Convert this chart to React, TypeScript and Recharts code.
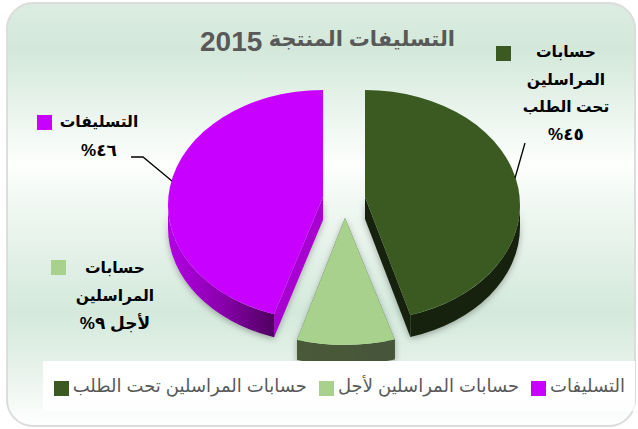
import React from 'react';
import { PieChart, Pie, Legend } from 'recharts';

const categories = ['حسابات المراسلين تحت الطلب', 'حسابات المراسلين لأجل', 'التسليفات'];
const shares = [45, 9, 46];
const colors = ['#3a5a22', '#a9d18e', '#c800ff'];
const sideColors = ['#16230d', 'url(#lightSide)', 'url(#purpleSide)'];
const cutColors = ['#16230d', '#4a5a38', '#a800d0'];
const labelLines = [
    ['حسابات', 'المراسلين', 'تحت الطلب', '٤٥%'],
    ['حسابات', 'المراسلين', 'لأجل ٩%'],
    ['التسليفات', '٤٦%'],
];
const chartTitle = 'التسليفات المنتجة';
const chartYear = '2015';

const rows = categories.map((name, i) => ({ name, value: shares[i], fill: colors[i] }));

// how each slice is pulled out and squashed to look like the tilted pie
const sliceLook = [
    { dx: 21, dy: 0, scale: 1, squash: 0.742, apexDy: -8, depth: 22, startShift: 0, endShift: 1 },
    { dx: 1, dy: 12, scale: 1.13, squash: 0.73, apexDy: 1, depth: 20, startShift: 1.5, endShift: 1.5 },
    { dx: -21, dy: 0, scale: 1, squash: 0.742, apexDy: -8, depth: 23, startShift: 4, endShift: 0 },
];

const labelLook = [
    { x: 566, y: 57, step: 27.5, swatchX: 496, swatchY: 46, leader: '525,143 515,178' },
    { x: 115, y: 273, step: 28, swatchX: 51, swatchY: 260, leader: '' },
    { x: 99, y: 127, step: 29, swatchX: 37, swatchY: 115, leader: '131,157 143,157 172,181' },
];

const FONT = '"Liberation Sans", Arial, "DejaVu Sans", sans-serif';

const SliceShape = (props: any) => {
    const index = categories.indexOf(props.name ?? props.payload?.name);
    const look = sliceLook[index];
    const rx = props.outerRadius * look.scale;
    const ry = rx * look.squash;
    const ex = props.cx + look.dx;
    const ey = props.cy + look.dy;
    const ax = ex;
    const ay = ey + look.apexDy;
    const from = 90 - props.startAngle + look.startShift;
    const to = 90 - props.endAngle + look.endShift;
    const pt = (deg: number) => {
        const t = (deg * Math.PI) / 180;
        return [ex + rx * Math.sin(t), ey - ry * Math.cos(t)];
    };
    const [x0, y0] = pt(from);
    const [x1, y1] = pt(to);
    const large = to - from > 180 ? 1 : 0;
    const d = look.depth;
    // the rim only shows on the lower half of the ellipse
    const rimFrom = Math.max(from, 90);
    const rimTo = Math.min(to, 270);
    const [rx0, ry0] = pt(rimFrom);
    const [rx1, ry1] = pt(rimTo);
    const top = `M${ax},${ay} L${x0},${y0} A${rx},${ry} 0 ${large} 1 ${x1},${y1} Z`;
    const rim = `M${rx0},${ry0} A${rx},${ry} 0 0 1 ${rx1},${ry1} L${rx1},${ry1 + d} A${rx},${ry} 0 0 0 ${rx0},${ry0 + d} Z`;
    const cutA = `M${ax},${ay} L${x0},${y0} L${x0},${y0 + d} L${ax},${ay + d} Z`;
    const cutB = `M${ax},${ay} L${x1},${y1} L${x1},${y1 + d} L${ax},${ay + d} Z`;
    return (
        <g>
            <g filter="url(#softShadow)">
                <path d={cutA} fill={cutColors[index]} />
                <path d={cutB} fill={cutColors[index]} />
                <path d={rim} fill={sideColors[index]} />
            </g>
            <path d={top} fill={colors[index]} />
        </g>
    );
};

const renderLabel = (props: any) => {
    const index = props.index;
    const look = labelLook[index];
    const lines = labelLines[index];
    return (
        <g key={index}>
            <rect x={look.swatchX} y={look.swatchY} width={15} height={15} fill={colors[index]} />
            {lines.map((line, i) => (
                <text
                    key={i}
                    x={look.x}
                    y={look.y + i * look.step}
                    textAnchor="middle"
                    direction="rtl"
                    fontFamily={FONT}
                    fontWeight="bold"
                    fontSize={i === lines.length - 1 ? 17 : 15.5}
                    fill="#000"
                >
                    {line}
                </text>
            ))}
            {look.leader && <polyline points={look.leader} fill="none" stroke="#000" strokeWidth={1.3} />}
        </g>
    );
};

const LegendPanel = ({ payload }: any) => (
    <div
        dir="rtl"
        style={{
            display: 'flex',
            gap: 12,
            height: 50,
            paddingRight: 10,
            paddingTop: 14,
            boxSizing: 'border-box',
            background: 'linear-gradient(#ffffff 70%, rgba(255,255,255,0.7))',
            fontFamily: FONT,
            fontSize: 18,
            color: '#595959',
        }}
    >
        {[...(payload || [])].reverse().map((entry: any) => (
            <div key={entry.value} style={{ display: 'flex', alignItems: 'flex-start', gap: 4, whiteSpace: 'nowrap' }}>
                <span>{entry.value}</span>
                <span style={{ width: 15, height: 15, marginTop: 6, background: entry.color }} />
            </div>
        ))}
    </div>
);

export default function App() {
    return (
        <div style={{ position: 'absolute', left: 0, top: 0, width: 638, height: 429, background: '#fff' }}>
            <svg width={638} height={429} style={{ position: 'absolute', left: 0, top: 0 }}>
                <defs>
                    <linearGradient id="panelBg" x1="0" y1="0" x2="0" y2="1">
                        <stop offset="0" stopColor="#dcece2" />
                        <stop offset="0.11" stopColor="#d3e8da" />
                        <stop offset="0.22" stopColor="#e4f1e8" />
                        <stop offset="0.38" stopColor="#fdfffd" />
                        <stop offset="0.47" stopColor="#f1f8f3" />
                        <stop offset="0.73" stopColor="#d4e9dc" />
                        <stop offset="0.86" stopColor="#e6f2ea" />
                        <stop offset="1" stopColor="#ffffff" />
                    </linearGradient>
                </defs>
                <rect x={7} y={3} width={628} height={423} rx={26} fill="url(#panelBg)" stroke="#dcdcdc" strokeWidth={2} />
            </svg>
            <PieChart
                width={638}
                height={429}
                margin={{ top: 0, right: 0, bottom: 0, left: 0 }}
                style={{ position: 'absolute', left: 0, top: 0 }}
            >
                <defs>
                    <linearGradient id="purpleSide" x1="0" y1="0" x2="1" y2="0">
                        <stop offset="0" stopColor="#b400e6" />
                        <stop offset="0.5" stopColor="#8a00ad" />
                        <stop offset="1" stopColor="#4f0060" />
                    </linearGradient>
                    <linearGradient id="lightSide" x1="0" y1="0" x2="1" y2="0">
                        <stop offset="0" stopColor="#4a5a38" />
                        <stop offset="1" stopColor="#46563a" />
                    </linearGradient>
                    <filter id="softShadow" x="-20%" y="-20%" width="140%" height="150%">
                        <feDropShadow dx={0} dy={2} stdDeviation={3} floodColor="#000" floodOpacity={0.3} />
                    </filter>
                </defs>
                <text x={455} y={46} textAnchor="start" direction="rtl" fontFamily={FONT} fontWeight="bold" fontSize={21} fill="#595959">
                    {chartTitle}
                </text>
                <text x={200} y={51} textAnchor="start" fontFamily={FONT} fontWeight="bold" fontSize={28} fill="#595959">
                    {chartYear}
                </text>
                <Pie
                    data={rows}
                    dataKey="value"
                    nameKey="name"
                    cx={344}
                    cy={205}
                    outerRadius={155}
                    startAngle={90}
                    endAngle={-270}
                    stroke="none"
                    shape={SliceShape}
                    label={renderLabel}
                    labelLine={false}
                    isAnimationActive={false}
                />
                <Legend
                    content={<LegendPanel />}
                    itemSorter={null}
                    wrapperStyle={{ position: 'absolute', left: 43, top: 361, width: 592, height: 50, bottom: 'auto' }}
                />
            </PieChart>
        </div>
    );
}
